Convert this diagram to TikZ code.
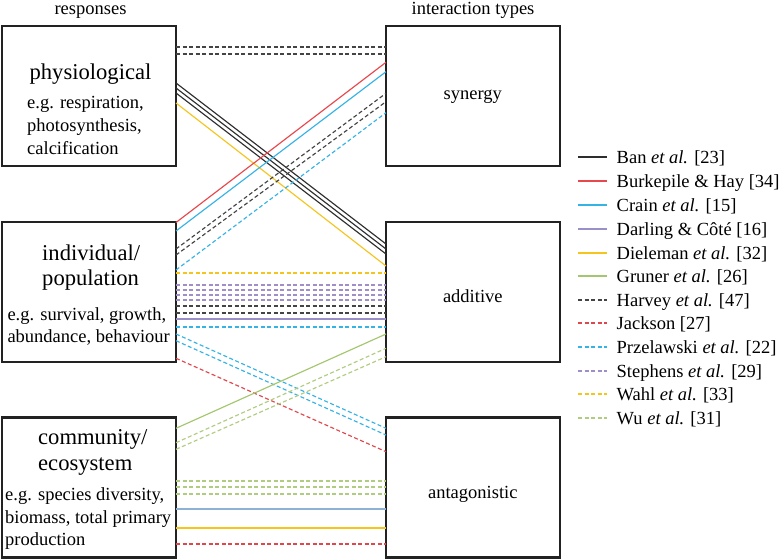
\documentclass[tikz,border=0pt]{standalone}
\usepackage{fontspec}
\setmainfont{Liberation Serif}
\definecolor{boxc}{HTML}{222222}
\definecolor{banc}{HTML}{2E2E2E}
\definecolor{burc}{HTML}{E8474C}
\definecolor{crac}{HTML}{35B3E4}
\definecolor{darc}{HTML}{9A8FC8}
\definecolor{diec}{HTML}{F5C51E}
\definecolor{gruc}{HTML}{A3C66E}
\definecolor{harc}{HTML}{444444}
\definecolor{jacc}{HTML}{E0474C}
\definecolor{przc}{HTML}{35B3E4}
\definecolor{stec}{HTML}{A08EC8}
\definecolor{wahc}{HTML}{F5C51E}
\definecolor{wuc}{HTML}{B0CC80}
\definecolor{stlc}{HTML}{8EB1D8}
\newcommand\hdfont{\fontsize{22.6}{26}\selectfont}
\newcommand\bdfont{\fontsize{18.5}{22}\selectfont}
\newcommand\lk[5]{\draw[#1] ([yshift=-#3pt]#2.north east) -- ([yshift=-#5pt]#4.north west);}
\begin{document}
\begin{tikzpicture}[x=1pt,y=-1pt,
  box/.style={draw=boxc, line width=2.4pt, minimum width=174pt, minimum height=140pt, inner sep=0pt, outer sep=0pt},
  hd/.style={font=\hdfont, inner sep=0pt},
  bd/.style={font=\bdfont, inner sep=0pt},
  sl/.style={line width=1.15pt},
  dl/.style={line width=1.15pt, dash pattern=on 4pt off 2.5pt},
  ban/.style={sl, draw=banc},
  bur/.style={sl, draw=burc},
  cra/.style={sl, draw=crac},
  dar/.style={sl, draw=darc},
  die/.style={sl, draw=diec},
  gru/.style={sl, draw=gruc},
  har/.style={dl, draw=harc},
  jac/.style={dl, draw=jacc},
  prz/.style={dl, draw=przc},
  ste/.style={dl, draw=stec},
  wah/.style={dl, draw=wahc},
  wu/.style={dl, draw=wuc},
  stl/.style={sl, draw=stlc},
  legline/.style={line width=1.4pt},
]
\useasboundingbox (0,0) rectangle (781,559);

% titles
\node[bd, anchor=base] (tres) at (90.5,15) {responses};
\node[bd, anchor=base] (tint) at (473,15) {interaction types};

% boxes
\node[box] (phys) at (89,96) {};
\node[box] (indiv) at (89,292) {};
\node[box] (comm) at (89,487.5) {};
\node[box] (syn) at (473,96) {};
\node[box] (add) at (473,292) {};
\node[box] (ant) at (473,487.5) {};

% box texts
\node[hd, anchor=base] (physT) at (90.5,80) {physiological};
\node[bd, anchor=base west] (physD1) at (27,109) {e.g. respiration,};
\node[bd, anchor=base west] (physD2) at (27,131.5) {photosynthesis,};
\node[bd, anchor=base west] (physD3) at (27,154) {calcification};

\node[hd, anchor=base west] (indT1) at (42,260) {individual/};
\node[hd, anchor=base west] (indT2) at (42,285) {population};
\node[bd, anchor=base west] (indD1) at (7.3,320.7) {e.g. survival, growth,};
\node[bd, anchor=base west] (indD2) at (7.3,342.3) {abundance, behaviour};

\node[hd, anchor=base west] (comT1) at (38,444) {community/};
\node[hd, anchor=base west] (comT2) at (38,470.7) {ecosystem};
\node[bd, anchor=base west] (comD1) at (5,500.5) {e.g. species diversity,};
\node[bd, anchor=base west] (comD2) at (5,523) {biomass, total primary};
\node[bd, anchor=base west] (comD3) at (5,545.5) {production};

\node[bd, anchor=base] (synT) at (472.8,99.5) {synergy};
\node[bd, anchor=base] (addT) at (472.8,302.7) {additive};
\node[bd, anchor=base] (antT) at (472.8,498.3) {antagonistic};

% physiological -> synergy
\lk{har}{phys}{21}{syn}{21}
\lk{har}{phys}{28}{syn}{28}
% physiological -> additive
\lk{ban}{phys}{57}{add}{22}
\lk{ban}{phys}{62}{add}{27}
\lk{ban}{phys}{67}{add}{32}
\lk{die}{phys}{77}{add}{44}
% individual -> synergy
\lk{bur}{indiv}{0.5}{syn}{36.3}
\lk{cra}{indiv}{9}{syn}{45.7}
\lk{har}{indiv}{27}{syn}{67.3}
\lk{har}{indiv}{33}{syn}{75.7}
\lk{prz}{indiv}{48}{syn}{86.7}
% individual -> additive
\lk{wah}{indiv}{51}{add}{51}
\lk{ste}{indiv}{63}{add}{63}
\lk{ste}{indiv}{68}{add}{68}
\lk{ste}{indiv}{73}{add}{73}
\lk{ste}{indiv}{78}{add}{78}
\lk{har}{indiv}{84}{add}{84}
\lk{har}{indiv}{91}{add}{91}
\lk{dar}{indiv}{97}{add}{97}
\lk{prz}{indiv}{105}{add}{105}
% individual -> antagonistic
\lk{prz}{indiv}{112}{ant}{10.8}
\lk{prz}{indiv}{118.7}{ant}{17.5}
\lk{jac}{indiv}{136.3}{ant}{34.2}
% community -> additive
\lk{gru}{comm}{10.8}{add}{112}
\lk{wu}{comm}{25.2}{add}{126.3}
\lk{wu}{comm}{31.8}{add}{134.7}
% community -> antagonistic
\lk{wu}{comm}{63.5}{ant}{63.5}
\lk{wu}{comm}{69.5}{ant}{69.5}
\lk{wu}{comm}{76.5}{ant}{76.5}
\lk{stl}{comm}{91.5}{ant}{91.5}
\lk{die}{comm}{110.5}{ant}{110.5}
\lk{jac}{comm}{126.5}{ant}{126.5}

% legend
\foreach \st/\yy/\tx [count=\i from 0] in {
  ban/157/{Ban \textit{et al.} [23]},
  bur/181/{Burkepile \& Hay [34]},
  cra/205/{Crain \textit{et al.} [15]},
  dar/229/{Darling \& Côté [16]},
  die/253/{Dieleman \textit{et al.} [32]},
  gru/276/{Gruner \textit{et al.} [26]},
  har/300/{Harvey \textit{et al.} [47]},
  jac/323/{Jackson [27]},
  prz/347/{Przelawski \textit{et al.} [22]},
  ste/371/{Stephens \textit{et al.} [29]},
  wah/394/{Wahl \textit{et al.} [33]},
  wu/418/{Wu \textit{et al.} [31]}}{
  \coordinate (la\i) at (578,\yy);
  \coordinate (lb\i) at (607,\yy);
  \draw[\st, legline] (la\i) -- (lb\i);
  \node[bd, anchor=base west] (lg\i) at (616.5,\yy+6) {\tx};
}
\end{tikzpicture}
\end{document}
